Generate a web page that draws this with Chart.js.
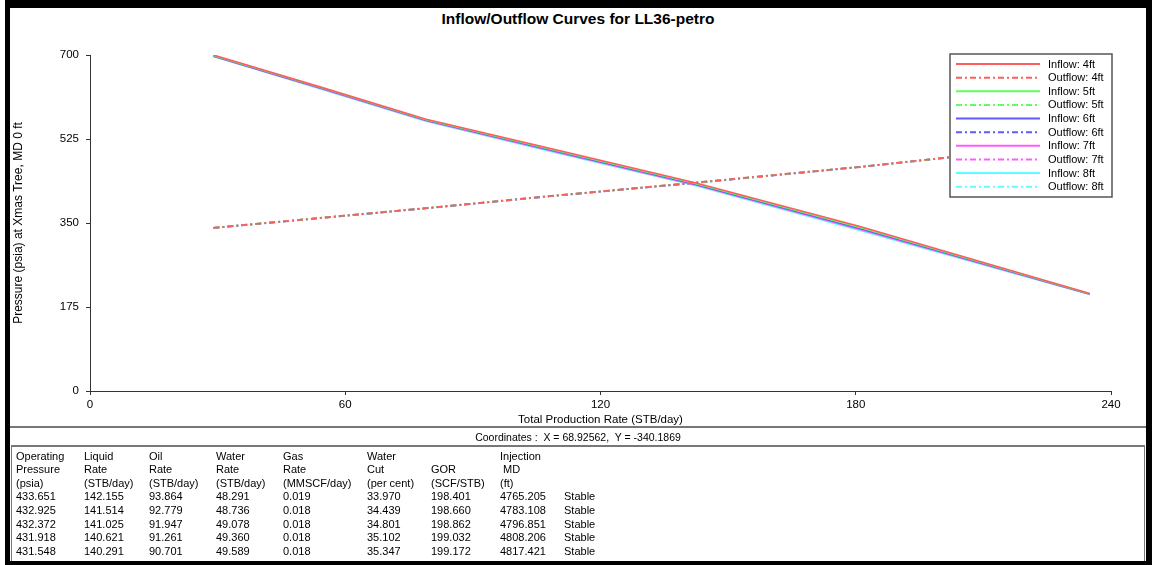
<!DOCTYPE html>
<html>
<head>
<meta charset="utf-8">
<script src="https://cdn.jsdelivr.net/npm/chart.js@4.4.1/dist/chart.umd.min.js"></script>
<style>
html,body{margin:0;padding:0;background:#fff;}
body{width:1152px;height:565px;position:relative;overflow:hidden;font-family:"Liberation Sans",Arial,sans-serif;color:#000;}
#frame{position:absolute;left:5px;top:0;width:1147px;height:565px;box-sizing:border-box;border-left:5px solid #000;border-top:8px solid #000;border-right:6px solid #000;border-bottom:4px solid #000;}
#title{position:absolute;left:10px;width:1136px;top:9px;height:19px;line-height:19px;text-align:center;font-weight:bold;font-size:15.5px;}
#chartWrap{position:absolute;left:10px;top:9px;width:1136px;height:418px;}
#sep1{position:absolute;left:10px;width:1136px;top:426px;height:0;border-top:2px solid #777;}
#coords{position:absolute;left:10px;width:1136px;top:430px;height:14px;line-height:14px;text-align:center;font-size:10.5px;}
#tableBox{position:absolute;left:11px;top:445px;width:1134px;height:116px;box-sizing:border-box;border-top:2px solid #777;border-left:1px solid #777;border-right:1px solid #777;}
.cell{position:absolute;font-size:11px;line-height:13.6px;height:13.6px;white-space:pre;}
</style>
</head>
<body>
<div id="frame"></div>
<div id="title">Inflow/Outflow Curves for LL36-petro</div>
<div id="chartWrap"><canvas id="c" width="1136" height="418"></canvas></div>
<div id="sep1"></div>
<div id="coords">Coordinates :&nbsp; X = 68.92562,&nbsp; Y = -340.1869</div>
<div id="tableBox"></div>
<script>
// ---------------- data ----------------
const depthLabels = ['4ft', '5ft', '6ft', '7ft', '8ft'];
const seriesColors = ['#ff5c5c', '#5cff5c', '#5c5cff', '#ff5cff', '#5cffff'];

const inflowRates = [29, 55, 79, 110, 142, 181, 235];
const inflow4ft = [700, 631, 566, 501.5, 434.5, 342.5, 203];
const inflow5ft = [699, 630, 565, 500, 433, 340.5, 202.5];
const inflow6ft = [698, 629, 564, 498.5, 431.5, 338.5, 202];
const inflow7ft = [697.5, 628, 563, 497, 430, 336.5, 201.5];
const inflow8ft = [697, 627, 562, 495.5, 428.5, 334.5, 201];

const outflowRates = [29, 79, 108, 142, 181, 202, 235];
const outflow4ft = [340, 381, 406, 434, 467, 487, 518];
const outflow5ft = [340, 381, 406, 433.8, 466.9, 486.9, 517.9];
const outflow6ft = [339.8, 380.8, 405.8, 433.6, 466.8, 486.8, 517.8];
const outflow7ft = [339.6, 380.6, 405.6, 433.3, 466.6, 486.6, 517.6];
const outflow8ft = [339.5, 380.5, 405.5, 433, 466.5, 486.5, 517.5];

const xTicks = [0, 60, 120, 180, 240];
const yTicks = [0, 175, 350, 525, 700];

const tableHeader1 = ['Operating', 'Liquid', 'Oil', 'Water', 'Gas', 'Water', '', 'Injection', ''];
const tableHeader2 = ['Pressure', 'Rate', 'Rate', 'Rate', 'Rate', 'Cut', 'GOR', ' MD', ''];
const tableHeader3 = ['(psia)', '(STB/day)', '(STB/day)', '(STB/day)', '(MMSCF/day)', '(per cent)', '(SCF/STB)', '(ft)', ''];
const opPressure = ['433.651', '432.925', '432.372', '431.918', '431.548'];
const liquidRate = ['142.155', '141.514', '141.025', '140.621', '140.291'];
const oilRate = ['93.864', '92.779', '91.947', '91.261', '90.701'];
const waterRate = ['48.291', '48.736', '49.078', '49.360', '49.589'];
const gasRate = ['0.019', '0.018', '0.018', '0.018', '0.018'];
const waterCut = ['33.970', '34.439', '34.801', '35.102', '35.347'];
const gor = ['198.401', '198.660', '198.862', '199.032', '199.172'];
const injectionMD = ['4765.205', '4783.108', '4796.851', '4808.206', '4817.421'];
const stability = ['Stable', 'Stable', 'Stable', 'Stable', 'Stable'];

// ---------------- table ----------------
const colX = [4, 72, 137, 204, 271, 355, 419, 488, 552];
const tb = document.getElementById('tableBox');
const rows = [tableHeader1, tableHeader2, tableHeader3];
for (let i = 0; i < opPressure.length; i++) {
  rows.push([opPressure[i], liquidRate[i], oilRate[i], waterRate[i], gasRate[i], waterCut[i], gor[i], injectionMD[i], stability[i]]);
}
rows.forEach((r, ri) => {
  r.forEach((txt, ci) => {
    if (!txt) return;
    const d = document.createElement('div');
    d.className = 'cell';
    d.style.left = colX[ci] + 'px';
    d.style.top = (2.5 + ri * 13.6) + 'px';
    d.textContent = txt;
    tb.appendChild(d);
  });
});

// ---------------- chart ----------------
const xy = (xs, ys) => xs.map((x, i) => ({ x: x, y: ys[i] }));
const inflows = [inflow4ft, inflow5ft, inflow6ft, inflow7ft, inflow8ft];
const outflows = [outflow4ft, outflow5ft, outflow6ft, outflow7ft, outflow8ft];
const datasets = [];
depthLabels.forEach((d, i) => {
  datasets.push({
    label: 'Inflow: ' + d,
    data: xy(inflowRates, inflows[i]),
    borderColor: seriesColors[i],
    borderWidth: 1.6,
    pointRadius: 0,
    tension: 0,
    fill: false
  });
  datasets.push({
    label: 'Outflow: ' + d,
    data: xy(outflowRates, outflows[i]),
    borderColor: seriesColors[i],
    borderWidth: 1.8,
    borderDash: [6, 3, 2, 3],
    pointRadius: 0,
    tension: 0,
    fill: false
  });
});

const boxLegend = {
  id: 'boxLegend',
  afterDatasetsDraw(chart) {
    const ctx = chart.ctx;
    const ca = chart.chartArea;
    const x0 = ca.right - 161, y0 = ca.top - 1, w = 162, h = 143;
    ctx.save();
    ctx.fillStyle = '#fff';
    ctx.fillRect(x0, y0, w, h);
    ctx.strokeStyle = '#555';
    ctx.lineWidth = 1.5;
    ctx.strokeRect(x0, y0, w, h);
    ctx.font = '11px "Liberation Sans", Arial, sans-serif';
    ctx.textBaseline = 'middle';
    ctx.textAlign = 'left';
    chart.data.datasets.forEach((ds, i) => {
      const y = y0 + 10 + i * 13.63;
      ctx.beginPath();
      ctx.setLineDash(ds.borderDash || []);
      ctx.lineDashOffset = 0;
      ctx.strokeStyle = ds.borderColor;
      ctx.lineWidth = 2;
      ctx.moveTo(x0 + 6, y);
      ctx.lineTo(x0 + 90, y);
      ctx.stroke();
      ctx.setLineDash([]);
      ctx.fillStyle = '#000';
      ctx.fillText(ds.label, x0 + 98, y + 0.5);
    });
    ctx.restore();
  }
};

new Chart(document.getElementById('c'), {
  type: 'line',
  data: { datasets: datasets },
  options: {
    responsive: false,
    animation: false,
    devicePixelRatio: 1,
    layout: { padding: { left: 0, top: 46, right: 35, bottom: 0 } },
    plugins: {
      legend: { display: false },
      tooltip: { enabled: false },
      title: { display: false }
    },
    scales: {
      x: {
        type: 'linear',
        min: 0, max: 240,
        afterBuildTicks: (s) => { s.ticks = xTicks.map(v => ({ value: v })); },
        afterFit: (s) => { s.height = 36; },
        ticks: { color: '#000', font: { size: 11.5, family: '"Liberation Sans", Arial, sans-serif' }, padding: 3, maxRotation: 0 },
        grid: { drawOnChartArea: false, drawTicks: true, tickLength: 4, color: '#333' },
        border: { display: true, color: '#333', width: 1 },
        title: { display: true, text: 'Total Production Rate (STB/day)', color: '#000', font: { size: 11.5, family: '"Liberation Sans", Arial, sans-serif' }, padding: { top: 3, bottom: 0 } }
      },
      y: {
        type: 'linear',
        min: 0, max: 700,
        afterBuildTicks: (s) => { s.ticks = yTicks.map(v => ({ value: v })); },
        afterFit: (s) => { s.width = 80; },
        ticks: { color: '#000', font: { size: 11.5, family: '"Liberation Sans", Arial, sans-serif' }, padding: 7 },
        grid: { drawOnChartArea: false, drawTicks: true, tickLength: 4, color: '#333' },
        border: { display: true, color: '#333', width: 1 },
        title: { display: true, text: 'Pressure (psia) at Xmas Tree, MD 0 ft', color: '#000', font: { size: 12, family: '"Liberation Sans", Arial, sans-serif' }, padding: { top: 1, bottom: 0 } }
      }
    }
  },
  plugins: [boxLegend]
});
</script>
</body>
</html>
